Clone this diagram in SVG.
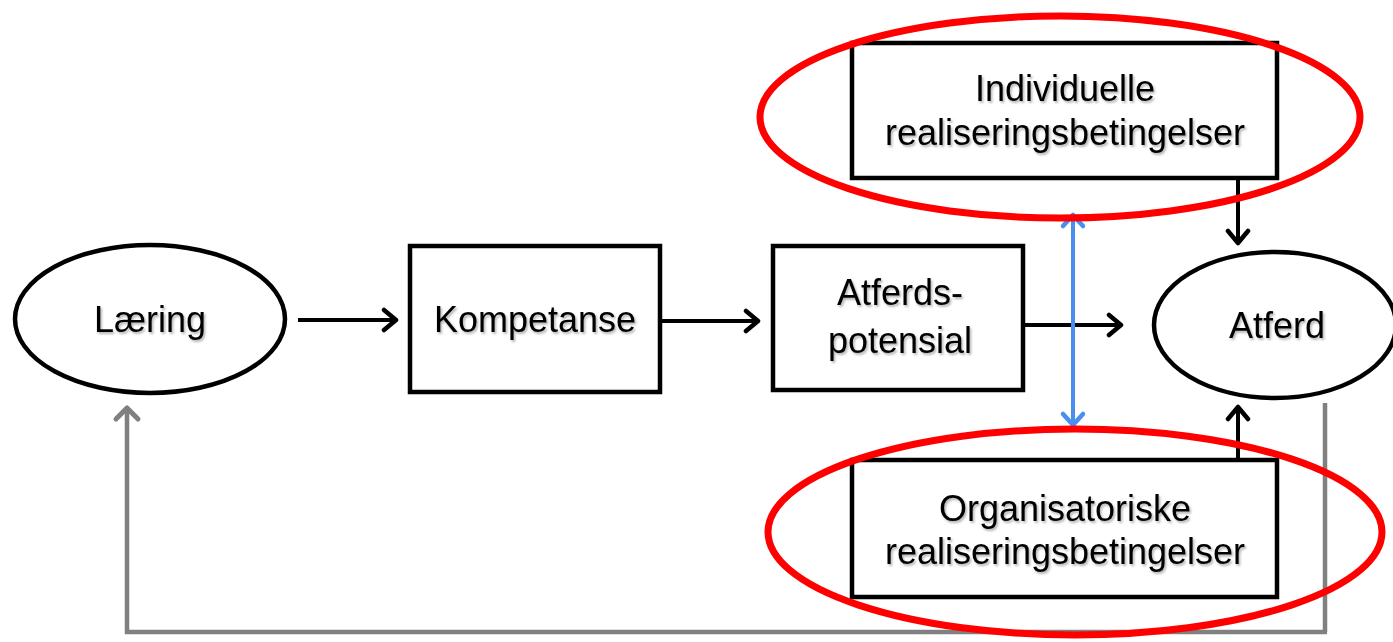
<svg xmlns="http://www.w3.org/2000/svg" width="1393" height="642" viewBox="0 0 1393 642">
<style>
.box{fill:#fff;stroke:#000;stroke-width:4.5}
.oval{fill:#fff;stroke:#000;stroke-width:4.5}
.red{fill:none;stroke:#f00;stroke-width:7}
.lbl{font-family:"Liberation Sans",Arial,sans-serif;font-size:36px;fill:#000;text-anchor:middle;filter:url(#sh)}
.blk{stroke:#000;stroke-width:4;fill:none}
.gry{stroke:#808080;stroke-width:4.5;fill:none}
.blu{stroke:#4a8ef0;stroke-width:4;fill:none}
</style>
<defs>
<filter id="sh" x="-10%" y="-10%" width="120%" height="130%">
<feDropShadow dx="1.5" dy="2" stdDeviation="1.2" flood-color="#000" flood-opacity="0.3"/>
</filter>
<marker id="ab" markerUnits="userSpaceOnUse" markerWidth="30" markerHeight="30" viewBox="-15 -15 30 30" refX="0" refY="0" orient="auto-start-reverse">
<path d="M-12,-10 L0,0 L-12,10" fill="none" stroke="#000" stroke-width="4.5" stroke-linecap="round" stroke-linejoin="round"/>
</marker>
<marker id="ag" markerUnits="userSpaceOnUse" markerWidth="30" markerHeight="30" viewBox="-15 -15 30 30" refX="0" refY="0" orient="auto-start-reverse">
<path d="M-11,-11 L0,0 L-11,11" fill="none" stroke="#808080" stroke-width="5" stroke-linecap="round" stroke-linejoin="round"/>
</marker>
<marker id="au" markerUnits="userSpaceOnUse" markerWidth="30" markerHeight="30" viewBox="-15 -15 30 30" refX="0" refY="0" orient="auto-start-reverse">
<path d="M-11,-10 L0,0 L-11,10" fill="none" stroke="#4a8ef0" stroke-width="4.5" stroke-linecap="round" stroke-linejoin="round"/>
</marker>
</defs>

<g id="connectors">
<line class="gry" x1="1325" y1="403" x2="1325" y2="632"/>
<line class="gry" x1="1327" y1="632" x2="125" y2="632"/>
<line class="gry" x1="127" y1="634" x2="127" y2="408" marker-end="url(#ag)"/>
<line class="blk" x1="298" y1="320" x2="396" y2="320" marker-end="url(#ab)"/>
<line class="blk" x1="662" y1="321" x2="758" y2="321" marker-end="url(#ab)"/>
<line class="blk" x1="1023" y1="325" x2="1121" y2="325" marker-end="url(#ab)"/>
<line class="blk" x1="1238" y1="178" x2="1238" y2="243" marker-end="url(#ab)"/>
<line class="blk" x1="1238" y1="460" x2="1238" y2="407" marker-end="url(#ab)"/>
<line class="blu" x1="1073" y1="215" x2="1073" y2="425" marker-start="url(#au)" marker-end="url(#au)"/>
</g>

<g id="laering">
<ellipse class="oval" cx="150" cy="319" rx="135" ry="74"/>
<text class="lbl" x="150" y="332">Læring</text>
</g>

<g id="kompetanse">
<rect class="box" x="410" y="246" width="250" height="146"/>
<text class="lbl" x="535" y="332">Kompetanse</text>
</g>

<g id="atferdspotensial">
<rect class="box" x="773" y="246" width="250" height="144"/>
<text class="lbl" x="900" y="305">Atferds-</text>
<text class="lbl" x="900" y="353">potensial</text>
</g>

<g id="atferd">
<ellipse class="oval" cx="1275" cy="325" rx="121" ry="73"/>
<text class="lbl" x="1277" y="338">Atferd</text>
</g>

<g id="individuelle">
<rect class="box" x="852" y="43" width="425" height="135"/>
<text class="lbl" x="1065" y="101">Individuelle</text>
<text class="lbl" x="1065" y="145">realiseringsbetingelser</text>
<ellipse class="red" cx="1060" cy="117" rx="300" ry="101"/>
</g>

<g id="organisatoriske">
<rect class="box" x="852" y="460" width="425" height="137"/>
<text class="lbl" x="1065" y="521">Organisatoriske</text>
<text class="lbl" x="1065" y="564">realiseringsbetingelser</text>
<ellipse class="red" cx="1075" cy="532" rx="307" ry="103"/>
</g>
</svg>
